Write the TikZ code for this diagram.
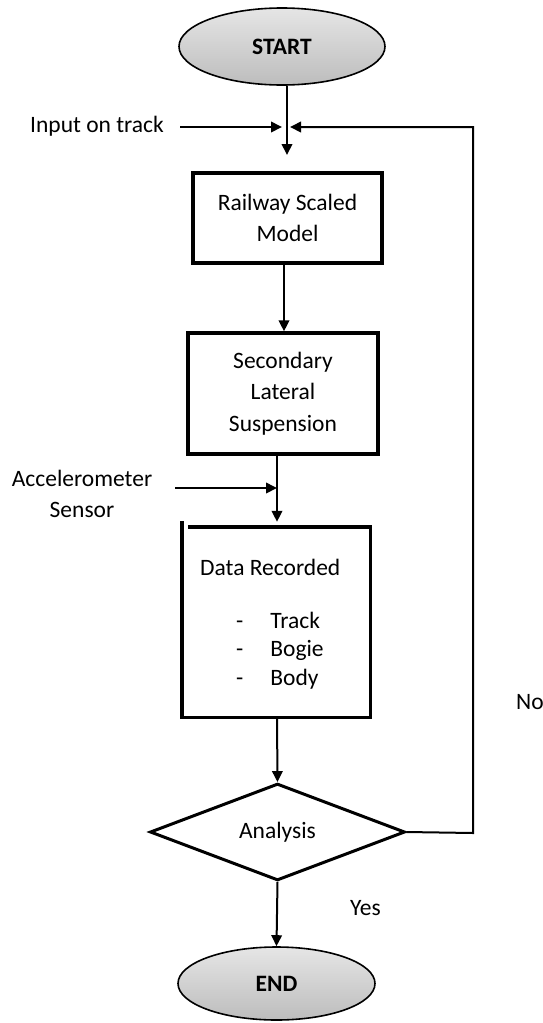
\documentclass[tikz,border=0pt]{standalone}
\usepackage{fontspec}
\setmainfont{Carlito}
\usetikzlibrary{shapes.geometric,arrows.meta}
\begin{document}
\begin{tikzpicture}[x=1pt,y=-1pt,
  txt/.style={font=\fontsize{23.5}{31}\selectfont, inner sep=0pt},
  term/.style={ellipse, draw=black, line width=1.6pt, top color=white!90!black, bottom color=white!74!black, inner sep=0pt, font=\fontsize{23.5}{26}\selectfont\bfseries},
  procbox/.style={draw=black, line width=3.4pt, inner sep=0pt, align=center, font=\fontsize{23.5}{31.5}\selectfont},
  arr/.style={line width=2pt, -{Triangle[length=11pt,width=10.5pt]}},
  plain/.style={line width=2pt}
]
\useasboundingbox (0,0) rectangle (543,1023);

% terminals
\node[term, minimum width=206pt, minimum height=77pt] (start) at (282,46.5) {START};
\node[term, minimum width=197pt, minimum height=73pt] (end) at (276.5,983.5) {END};

% process boxes
\node[procbox, minimum width=189pt, minimum height=90pt] (rail) at (287.5,218) {Railway Scaled\\Model};
\node[procbox, minimum width=190pt, minimum height=121pt] (sec) at (283,393.5) {Secondary\\Lateral\\Suspension};

% data box (drawn with slightly offset left edge as in the reference)
\node[minimum width=188pt, minimum height=190pt, inner sep=0pt] (data) at (276,622) {};
\draw[line width=3.4pt] ([xshift=6pt]data.north west) -- (data.north east) -- (data.south east) -- (data.south west) -- ([yshift=6pt]data.north west);
\node[txt, anchor=west] (dtitle) at (200,567) {Data Recorded};
\node[txt, anchor=west] (d1) at (236,620) {-\hspace{27pt}Track};
\node[txt, anchor=west] (d2) at (236,650) {-\hspace{27pt}Bogie};
\node[txt, anchor=west] (d3) at (236,679) {-\hspace{27pt}Body};

% decision
\node[diamond, draw=black, line width=3pt, minimum width=255pt, minimum height=90pt, inner sep=0pt, font=\fontsize{23.5}{26}\selectfont] (ana) at (277.5,832) {Analysis};

% side labels
\node[txt, anchor=west] (inp) at (30,126) {Input on track};
\node[txt, align=center] (acc) at (82,494) {Accelerometer\\Sensor};
\node[txt, anchor=west] (no) at (516,702) {No};
\node[txt, anchor=west] (yes) at (350,908) {Yes};

% helper coordinates
\coordinate (xa) at (287,0);
\coordinate (xb) at (284,0);
\coordinate (xc) at (277,0);
\coordinate (inl) at (180,127);
\coordinate (accl) at (175,488);
\coordinate (fbc) at (473,127);
\coordinate (fbr) at (473,833);
\coordinate (junc) at (287,127);
\coordinate (junc2) at (277,488);

% connectors
\draw[arr] (start.south -| xa) -- (xa |- 0,155);
\draw[arr, shorten >=5pt] (inl) -- (junc);
\draw[arr] (ana.east) -- (fbr) -- (fbc) -- ([xshift=3pt]junc);
\draw[arr] (rail.south -| xb) -- (sec.north -| xb);
\draw[arr, shorten >=5pt] (sec.south -| xc) -- (data.north -| xc);
\draw[arr] (accl) -- (junc2);
\draw[arr] (data.south -| xc) -- (ana.north);
\draw[arr] (ana.south) -- (end.north);
\end{tikzpicture}
\end{document}
